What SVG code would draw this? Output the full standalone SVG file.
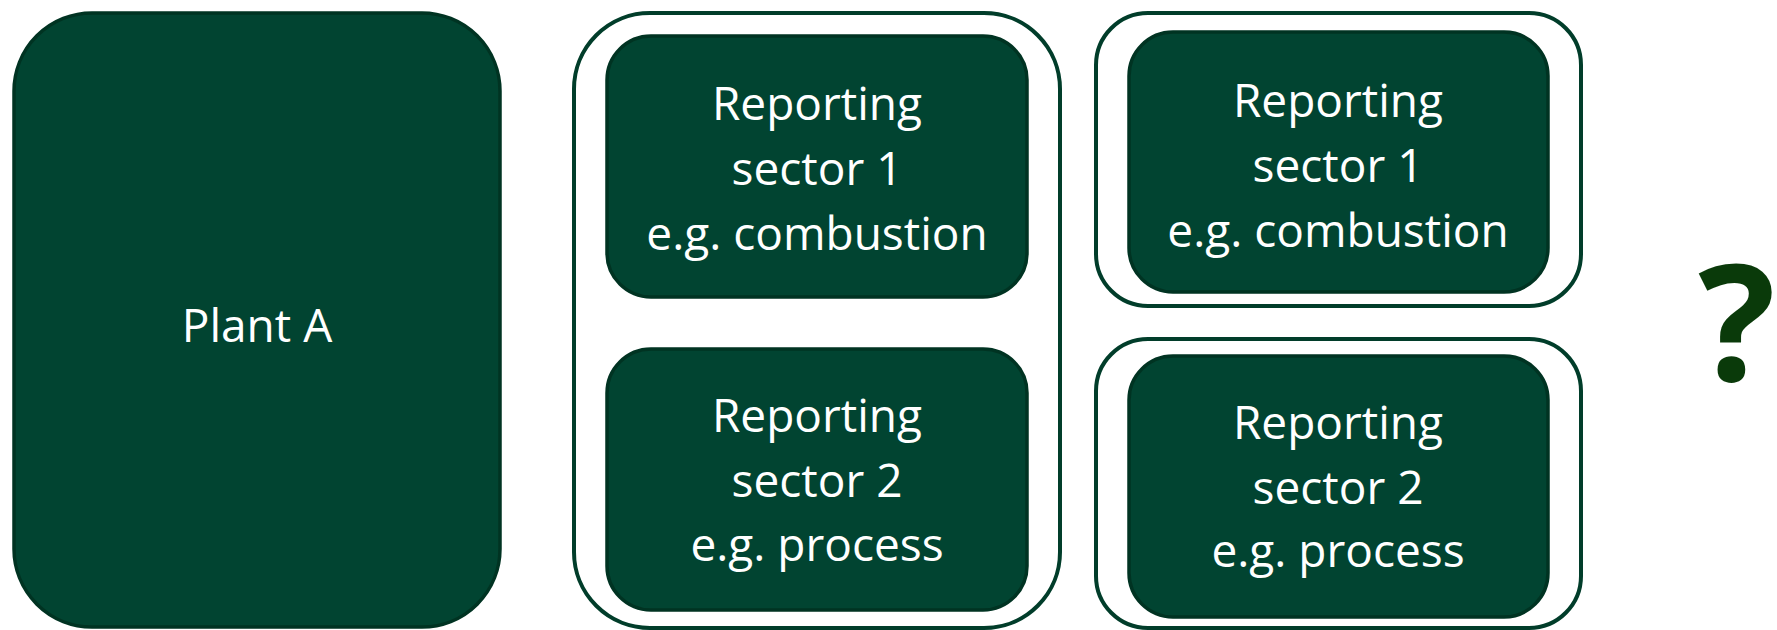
<svg xmlns="http://www.w3.org/2000/svg" width="1777" height="630" viewBox="0 0 1777 630">
<style>
.box{fill:#014431;stroke:#003322;stroke-width:3.5}
.outer{fill:#ffffff;stroke:#013d2a;stroke-width:4}
.t{font-family:"Open Sans","Noto Sans",sans-serif;font-size:46px;fill:#ffffff;text-anchor:middle}
.q{font-family:"Open Sans","Noto Sans",sans-serif;font-weight:bold;font-size:162px;fill:#0a3a0a;text-anchor:middle}
</style>
<g id="plant-a">
<rect class="box" x="14" y="13" width="486" height="614" rx="78" ry="78"/>
<text class="t" x="257" y="342">Plant A</text>
</g>
<g id="group-combined">
<rect class="outer" x="574" y="13" width="486" height="615" rx="76" ry="76"/>
</g>
<g id="sector1-a">
<rect class="box" x="607" y="36" width="420" height="261" rx="44" ry="44"/>
<text class="t" x="817" y="120">Reporting</text>
<text class="t" x="817" y="185">sector 1</text>
<text class="t" x="817" y="250">e.g. combustion</text>
</g>
<g id="sector2-a">
<rect class="box" x="607" y="349" width="420" height="261" rx="44" ry="44"/>
<text class="t" x="817" y="432">Reporting</text>
<text class="t" x="817" y="497">sector 2</text>
<text class="t" x="817" y="561">e.g. process</text>
</g>
<g id="group-s1">
<rect class="outer" x="1096" y="13" width="485" height="293" rx="52" ry="52"/>
</g>
<g id="sector1-b">
<rect class="box" x="1129" y="32" width="419" height="260" rx="44" ry="44"/>
<text class="t" x="1338" y="117">Reporting</text>
<text class="t" x="1338" y="182">sector 1</text>
<text class="t" x="1338" y="247">e.g. combustion</text>
</g>
<g id="group-s2">
<rect class="outer" x="1096" y="339" width="485" height="289" rx="52" ry="52"/>
</g>
<g id="sector2-b">
<rect class="box" x="1129" y="356" width="419" height="261" rx="44" ry="44"/>
<text class="t" x="1338" y="439">Reporting</text>
<text class="t" x="1338" y="504">sector 2</text>
<text class="t" x="1338" y="567">e.g. process</text>
</g>
<g id="question">
<text class="q" x="1737" y="381">?</text>
</g>
<g id="connectors"></g>
</svg>
